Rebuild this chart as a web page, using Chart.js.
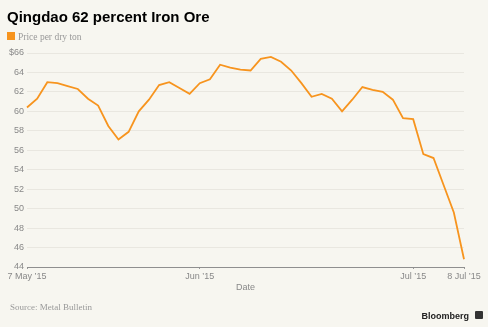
<!DOCTYPE html>
<html><head><meta charset="utf-8">
<script src="https://cdn.jsdelivr.net/npm/chart.js@4.4.1/dist/chart.umd.min.js"></script>
<style>
html,body{margin:0;padding:0;background:#f7f6f0;}
#wrap{position:relative;width:488px;height:327px;overflow:hidden;background:#f7f6f0;}
canvas{position:absolute;left:0;top:0;}
.t{position:absolute;white-space:nowrap;}
</style></head><body>
<div id="wrap">
<canvas id="c" width="488" height="327"></canvas>
<div class="t" style="left:7px;top:9px;font:bold 15px/15px 'Liberation Sans',Arial,sans-serif;color:#000;">Qingdao 62 percent Iron Ore</div>
<div class="t" style="left:7px;top:32px;width:8px;height:8px;background:#f7941e;"></div>
<div class="t" style="left:18px;top:32px;font:9.5px/10px 'Liberation Serif',serif;color:#999;">Price per dry ton</div>
<div class="t" style="left:10px;top:302px;font:9px/10px 'Liberation Serif',serif;color:#999;">Source: Metal Bulletin</div>
<div class="t" style="right:19px;top:311px;font:bold 9px/10px 'Liberation Sans',Arial,sans-serif;color:#222;">Bloomberg</div>
<div class="t" style="left:475px;top:311px;width:8px;height:8px;background:#333;border-radius:1px;"></div>
</div>
<script>
const dates = [
  '2015-05-07','2015-05-08','2015-05-11','2015-05-12','2015-05-13','2015-05-14','2015-05-15',
  '2015-05-18','2015-05-19','2015-05-20','2015-05-21','2015-05-22',
  '2015-05-25','2015-05-26','2015-05-27','2015-05-28','2015-05-29',
  '2015-06-01','2015-06-02','2015-06-03','2015-06-04','2015-06-05',
  '2015-06-08','2015-06-09','2015-06-10','2015-06-11','2015-06-12',
  '2015-06-15','2015-06-16','2015-06-17','2015-06-18','2015-06-19',
  '2015-06-23','2015-06-24','2015-06-25','2015-06-26',
  '2015-06-29','2015-06-30',
  '2015-07-01','2015-07-02','2015-07-03','2015-07-06','2015-07-07','2015-07-08'
];
const prices = [
  60.4, 61.3, 63.0, 62.9, 62.6, 62.3, 61.3,
  60.6, 58.5, 57.1, 57.9, 60.0,
  61.2, 62.7, 63.0, 62.4, 61.8,
  62.9, 63.3, 64.8, 64.5, 64.3,
  64.2, 65.4, 65.6, 65.1, 64.2,
  62.9, 61.5, 61.8, 61.3, 60.0,
  61.2, 62.5, 62.2, 62.0,
  61.2, 59.3,
  59.2, 55.6, 55.2, 52.4, 49.6, 44.8
];
const tickDates = ['2015-05-07','2015-06-01','2015-07-01','2015-07-08'];
const tickLabels = ['7 May \u201915','Jun \u201915','Jul \u201915','8 Jul \u201915'];
const yTicks = [44,46,48,50,52,54,56,58,60,62,64,66];

const FONT = "'Liberation Sans', Arial, sans-serif";
new Chart(document.getElementById('c'), {
  type: 'line',
  data: {
    labels: dates,
    datasets: [{
      label: 'Price per dry ton',
      data: prices,
      borderColor: '#f7941e',
      borderWidth: 1.8,
      pointRadius: 0,
      tension: 0,
      fill: false
    }]
  },
  options: {
    responsive: false,
    animation: false,
    layout: { padding: { top: 53, right: 24, left: 0, bottom: 0 } },
    plugins: { legend: { display: false }, tooltip: { enabled: false }, title: { display: false } },
    scales: {
      x: {
        type: 'category',
        offset: false,
        grid: { drawOnChartArea: false, drawTicks: true, tickLength: 2, color: '#999' },
        border: { display: true, color: '#8f8f8f', width: 1 },
        ticks: {
          autoSkip: false, maxRotation: 0, padding: 2,
          color: '#888', font: { family: FONT, size: 9 },
          callback: function (v) { const k = tickDates.indexOf(dates[v]); return k >= 0 ? tickLabels[k] : ''; }
        },
        afterBuildTicks: function (s) { s.ticks = s.ticks.filter(t => tickDates.indexOf(dates[t.value]) >= 0); },
        title: { display: true, text: 'Date', color: '#888', font: { family: FONT, size: 9 }, padding: { top: 0, bottom: 34 } },
        afterFit: function (s) { s.height = 60; }
      },
      y: {
        min: 44, max: 66,
        grid: { drawTicks: false, color: '#e9e7e0', lineWidth: 1 },
        border: { display: false },
        ticks: {
          padding: 3, color: '#888', font: { family: FONT, size: 9 },
          callback: function (v) { return v === 66 ? '$66' : String(v); }
        },
        afterBuildTicks: function (s) { s.ticks = yTicks.map(v => ({ value: v })); },
        afterFit: function (s) { s.width = 27; }
      }
    }
  }
});
</script>
</body></html>
